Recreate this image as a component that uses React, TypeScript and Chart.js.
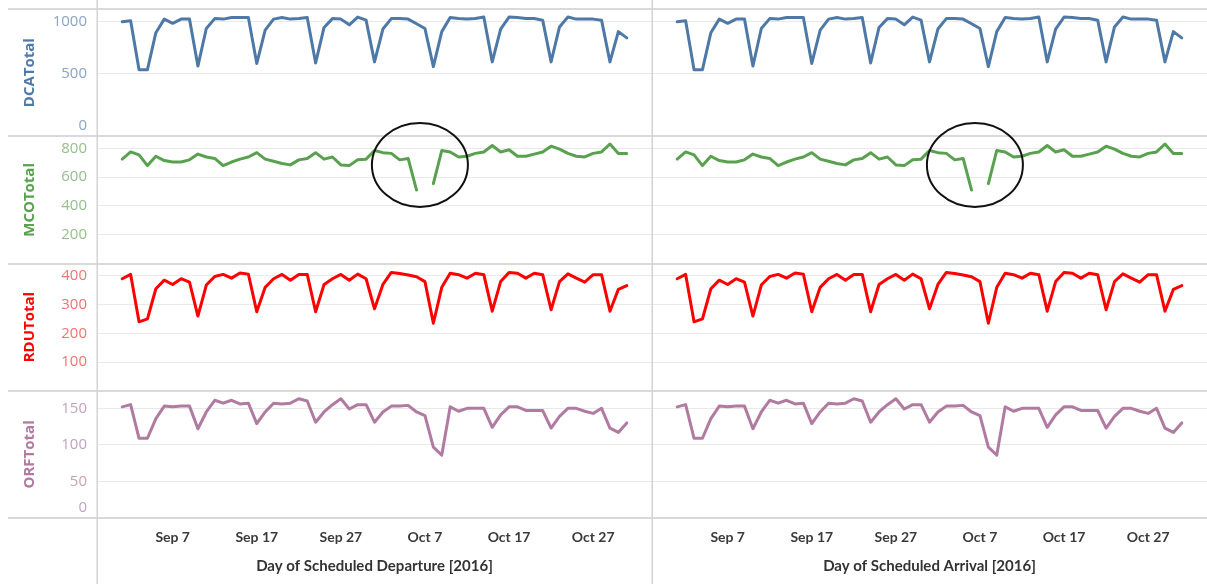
import React, { useEffect, useRef } from "react";
import { Chart, registerables } from "chart.js";

Chart.register(...registerables);

// Categories: one point per day, Sep 1 .. Oct 31 2016
const DAYS: string[] = [];
([["Sep", 30], ["Oct", 31]] as [string, number][]).forEach(([m, n]) => {
  for (let d = 1; d <= n; d++) DAYS.push(`${m} ${d}`);
});

// Series values
const DCA: number[] = [
  1000, 1010, 540, 540, 895, 1025, 985, 1025, 1025, 575,
  935, 1030, 1025, 1040, 1040, 1040, 600, 920, 1025, 1040,
  1025, 1030, 1040, 605, 945, 1030, 1025, 970, 1045, 1015,
  615, 930, 1030, 1030, 1025, 980, 935, 570, 905, 1040,
  1030, 1025, 1030, 1045, 615, 930, 1045, 1040, 1030, 1030,
  1015, 615, 950, 1045, 1025, 1025, 1025, 1015, 615, 905,
  845,
];
const MCO: (number | null)[] = [
  725, 775, 755, 680, 745, 715, 705, 705, 720, 760,
  740, 730, 680, 705, 725, 740, 770, 725, 710, 695,
  685, 720, 730, 770, 725, 740, 685, 680, 720, 725,
  785, 770, 765, 720, 730, 510, null, 555, 785, 775,
  740, 745, 765, 775, 820, 775, 790, 745, 745, 760,
  775, 815, 795, 765, 745, 740, 765, 775, 830, 765,
  765,
];
const RDU: number[] = [
  390, 405, 240, 250, 355, 385, 370, 390, 378, 260,
  368, 398, 405, 392, 410, 406, 275, 360, 390, 405,
  385, 405, 405, 275, 370, 390, 405, 385, 406, 390,
  285, 370, 412, 408, 403, 397, 380, 235, 360, 409,
  404, 392, 409, 404, 277, 380, 412, 409, 392, 409,
  404, 282, 380, 407, 392, 378, 404, 404, 277, 353,
  366,
];
const ORF: number[] = [
  152, 155, 109, 109, 136, 153, 152, 153, 153, 122,
  145, 161, 157, 161, 156, 157, 129, 145, 157, 156,
  157, 163, 160, 131, 145, 155, 163, 149, 155, 155,
  131, 145, 153, 153, 154, 145, 140, 97, 86, 152,
  146, 150, 150, 150, 124, 141, 152, 152, 147, 147,
  147, 123, 139, 150, 150, 146, 143, 150, 123, 117,
  130,
];

// Tick labels
const X_TICKS: string[] = ["Sep 7", "Sep 17", "Sep 27", "Oct 7", "Oct 17", "Oct 27"];
const DCA_TICKS: number[] = [0, 500, 1000];
const MCO_TICKS: number[] = [200, 400, 600, 800];
const RDU_TICKS: number[] = [100, 200, 300, 400];
const ORF_TICKS: number[] = [0, 50, 100, 150];

const COLUMNS = [
  { id: "xDep", title: "Day of Scheduled Departure [2016]", weight: 1 },
  { id: "xArr", title: "Day of Scheduled Arrival [2016]", weight: 2 },
];

const ROWS = [
  { id: "yDCA", title: "DCATotal", data: DCA, ticks: DCA_TICKS, min: -98, max: 1122, line: "#4e79a7", tick: "#8aa3c6", titleColor: "#4f7aa8", weight: 4 },
  { id: "yMCO", title: "MCOTotal", data: MCO, ticks: MCO_TICKS, min: 0, max: 884, line: "#59a14f", tick: "#94c08c", titleColor: "#59a14f", weight: 3 },
  { id: "yRDU", title: "RDUTotal", data: RDU, ticks: RDU_TICKS, min: 0, max: 443, line: "#ff0000", tick: "#f27373", titleColor: "#ff0000", weight: 2 },
  { id: "yORF", title: "ORFTotal", data: ORF, ticks: ORF_TICKS, min: 0, max: 174, line: "#b07aa1", tick: "#c3a3bb", titleColor: "#b07aa1", weight: 1 },
];

// Annotation: circle around the MCO gap (Hurricane Matthew)
const CIRCLE_DAY = DAYS.indexOf("Oct 6") + 0.4;
const CIRCLE_VALUE = 685;

const X_PAD_DAYS = 3;
const TICK_FONT_Y = { family: "'Open Sans', sans-serif", size: 15 };
const TITLE_FONT_Y = { family: "'Open Sans', sans-serif", size: 15, weight: "bold" as const };
const X_FONT = { family: "Lato, sans-serif", size: 14, weight: "bold" as const };
const X_TITLE_FONT = { family: "Lato, sans-serif", size: 15, weight: "bold" as const };

const decor = {
  id: "decor",
  beforeDatasetsDraw(chart: any) {
    const { ctx, width, height } = chart;
    ctx.save();
    ctx.strokeStyle = "#d9d9d9";
    ctx.lineWidth = 2;
    const ys = new Set<number>();
    ROWS.forEach((r) => {
      const s = chart.scales[r.id];
      ys.add(Math.round(s.top));
      ys.add(Math.round(s.bottom));
    });
    ys.forEach((y) => {
      ctx.beginPath();
      ctx.moveTo(8, y);
      ctx.lineTo(width, y);
      ctx.stroke();
    });
    ctx.lineWidth = 1.5;
    ctx.strokeStyle = "#d3d3d3";
    COLUMNS.forEach((c) => {
      const s = chart.scales[c.id];
      const x = Math.round(s.left) + 0.25;
      ctx.beginPath();
      ctx.moveTo(x, 0);
      ctx.lineTo(x, height);
      ctx.stroke();
    });
    ctx.restore();
  },
  afterDatasetsDraw(chart: any) {
    const { ctx } = chart;
    ctx.save();
    // circles
    const yS = chart.scales["yMCO"];
    COLUMNS.forEach((c) => {
      const xS = chart.scales[c.id];
      const cx = xS.getPixelForValue(CIRCLE_DAY);
      const cy = yS.getPixelForValue(CIRCLE_VALUE);
      ctx.beginPath();
      ctx.ellipse(cx, cy, 48, 42, 0, 0, Math.PI * 2);
      ctx.strokeStyle = "#111";
      ctx.lineWidth = 2;
      ctx.stroke();
    });
    // ORF zero label nudged inside its panel (as the original axis does)
    const o = chart.scales["yORF"];
    const r = ROWS[3];
    ctx.fillStyle = r.tick;
    ctx.font = `${TICK_FONT_Y.size}px ${TICK_FONT_Y.family}`;
    ctx.textAlign = "right";
    ctx.textBaseline = "middle";
    ctx.fillText("0", o.right - 10, o.getPixelForValue(0) - 10.5);
    ctx.restore();
  },
};

export default function App() {
  const ref = useRef<HTMLCanvasElement | null>(null);

  useEffect(() => {
    if (!ref.current) return;
    const datasets: any[] = [];
    ROWS.forEach((r) => {
      COLUMNS.forEach((c) => {
        datasets.push({
          label: `${r.title} ${c.id}`,
          data: r.data.map((v, i) => ({ x: i, y: v })),
          xAxisID: c.id,
          yAxisID: r.id,
          borderColor: r.line,
          backgroundColor: r.line,
          borderWidth: 3,
          pointRadius: 0,
          tension: 0,
          fill: false,
          spanGaps: false,
          borderJoinStyle: "round",
          borderCapStyle: "round",
        });
      });
    });

    const scales: any = {};
    COLUMNS.forEach((c) => {
      scales[c.id] = {
        type: "linear",
        position: "bottom",
        stack: "cols",
        stackWeight: 1,
        weight: c.weight,
        min: -X_PAD_DAYS,
        max: DAYS.length - 1 + X_PAD_DAYS,
        grid: { display: false },
        border: { display: false },
        afterBuildTicks: (s: any) => {
          s.ticks = X_TICKS.map((t) => ({ value: DAYS.indexOf(t) }));
        },
        afterFit: (s: any) => {
          s.height = 66;
          s.paddingLeft = 0;
          s.paddingRight = 0;
        },
        ticks: {
          autoSkip: false,
          maxRotation: 0,
          padding: 3,
          color: "#3a3a3a",
          font: X_FONT,
          callback: (v: number) => DAYS[v] ?? "",
        },
        title: {
          display: true,
          text: c.title,
          color: "#333",
          font: X_TITLE_FONT,
          padding: { top: 0, bottom: 9 },
        },
      };
    });
    ROWS.forEach((r) => {
      scales[r.id] = {
        type: "linear",
        position: "left",
        stack: "rows",
        stackWeight: 1,
        weight: r.weight,
        min: r.min,
        max: r.max,
        afterBuildTicks: (s: any) => {
          s.ticks = r.ticks.map((v) => ({ value: v }));
        },
        afterFit: (s: any) => {
          s.width = 97;
          s.paddingTop = 0;
          s.paddingBottom = 0;
        },
        grid: {
          drawTicks: false,
          lineWidth: 1,
          color: (ctx: any) => (ctx.tick && ctx.tick.value === 0 ? "rgba(0,0,0,0)" : "#e9e9e9"),
        },
        border: { display: false },
        ticks: {
          autoSkip: false,
          padding: 10,
          color: r.tick,
          font: TICK_FONT_Y,
          callback: (v: number) => (v === r.min ? "" : String(v)),
        },
        title: {
          display: true,
          text: r.title,
          color: r.titleColor,
          font: TITLE_FONT_Y,
          padding: { top: 21, bottom: 0 },
        },
      };
    });

    const chart = new Chart(ref.current, {
      type: "line",
      data: { datasets },
      options: {
        animation: false,
        responsive: true,
        maintainAspectRatio: false,
        events: [],
        layout: { padding: { top: 9, left: 0, right: 0, bottom: 0 } },
        plugins: { legend: { display: false }, tooltip: { enabled: false } },
        scales,
      },
      plugins: [decor],
    });
    return () => chart.destroy();
  }, []);

  return (
    <div style={{ position: "fixed", left: 0, top: 0, width: 1207, height: 584, background: "#fff" }}>
      <canvas ref={ref} />
    </div>
  );
}
